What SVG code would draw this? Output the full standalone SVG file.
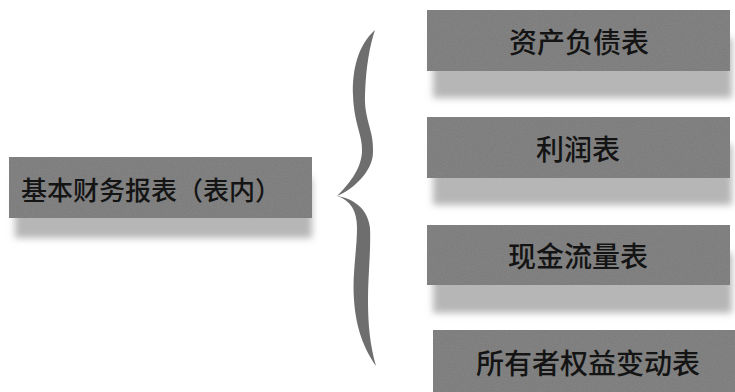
<svg xmlns="http://www.w3.org/2000/svg" width="735" height="392" viewBox="0 0 735 392">
<defs>
<filter id="blur" x="-10%" y="-30%" width="120%" height="160%"><feGaussianBlur stdDeviation="3.5"/></filter>
<filter id="grain" x="0" y="0" width="100%" height="100%">
<feTurbulence type="fractalNoise" baseFrequency="0.9" numOctaves="2" seed="3" result="n"/>
<feColorMatrix in="n" type="matrix" values="0 0 0 0 0.35  0 0 0 0 0.35  0 0 0 0 0.35  0 0 0 0.35 0" result="g"/>
<feComposite in="g" in2="SourceGraphic" operator="in" result="gi"/>
<feMerge><feMergeNode in="SourceGraphic"/><feMergeNode in="gi"/></feMerge>
</filter>
<style>
.box{fill:#787878;filter:url(#grain)}
.shadow{fill:#b6b6b6;filter:url(#blur)}
.brace{fill:#6e6e6e}
.label{font-family:"Noto Sans CJK SC","Noto Sans CJK JP",sans-serif;font-weight:500;fill:#141414;dominant-baseline:central}
.r{font-size:28px;text-anchor:middle}
</style>
</defs>
<rect width="735" height="392" fill="#ffffff"/>
<g id="connectors">
<path class="brace" d="M 375,30 C 358,45 352,70 353,95 C 354,125 363,135 362,152 C 361,170 348,185 337,196 C 352,190 373,172 373,152 C 374,130 364,120 365,95 C 366,65 370,45 375,30 Z"/>
<path class="brace" d="M 337,196 C 350,200 357,210 357,228 C 357,250 352,275 354,300 C 356,330 365,350 376,366 C 370,345 368,325 368,300 C 368,275 371,250 370,228 C 368,208 352,198 337,196 Z"/>
</g>
<g id="node-main">
<rect class="shadow" x="15" y="178" width="297" height="60"/>
<rect class="box" x="9" y="157" width="303" height="61"/>
<text class="label" x="21" y="188" font-size="26">基本财务报表（表内）</text>
</g>
<g id="node-balance">
<rect class="shadow" x="433" y="38" width="299" height="60"/>
<rect class="box" x="427" y="10" width="303" height="61"/>
<text class="label r" x="579" y="41">资产负债表</text>
</g>
<g id="node-profit">
<rect class="shadow" x="433" y="145" width="299" height="60"/>
<rect class="box" x="427" y="117" width="303" height="61"/>
<text class="label r" x="578" y="148">利润表</text>
</g>
<g id="node-cash">
<rect class="shadow" x="433" y="253" width="299" height="60"/>
<rect class="box" x="427" y="225" width="303" height="60"/>
<text class="label r" x="578" y="255">现金流量表</text>
</g>
<g id="node-equity">
<rect class="box" x="433" y="330" width="302" height="62"/>
<text class="label r" x="588" y="362">所有者权益变动表</text>
</g>
</svg>
